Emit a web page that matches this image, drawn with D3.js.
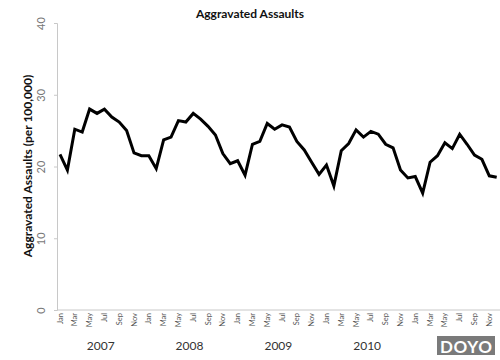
<!doctype html>
<html lang="en">
<head>
    <meta charset="UTF-8">
    <title>Aggravated Assaults</title>
    <script src="https://d3js.org/d3.v7.min.js"></script>
    <style>
        body { margin: 0; background: #fff; }
        svg { display: block; }
        text { font-family: Lato, "Liberation Sans", sans-serif; }
    </style>
</head>
<body>
    <svg width="500" height="360"></svg>

    <script>
        const monthNames = ["Jan", "Feb", "Mar", "Apr", "May", "Jun", "Jul", "Aug", "Sep", "Oct", "Nov", "Dec"];
        const years = [2007, 2008, 2009, 2010, 2011];
        const yTicks = [0, 10, 20, 30, 40];

        // monthly rate per 100,000, Jan 2007 .. Dec 2011
        const rate2007 = [21.7, 19.5, 25.2, 24.8, 28.0, 27.4, 28.0, 26.9, 26.2, 25.0, 21.9, 21.5];
        const rate2008 = [21.5, 19.7, 23.7, 24.1, 26.4, 26.2, 27.4, 26.6, 25.6, 24.4, 21.8, 20.4];
        const rate2009 = [20.8, 18.8, 23.1, 23.5, 26.0, 25.2, 25.8, 25.5, 23.5, 22.3, 20.6, 18.9];
        const rate2010 = [20.2, 17.3, 22.2, 23.2, 25.1, 24.1, 24.9, 24.5, 23.1, 22.6, 19.5, 18.4];
        const rate2011 = [18.6, 16.3, 20.6, 21.5, 23.3, 22.5, 24.5, 23.1, 21.6, 21.0, 18.7, 18.5];

        const rates = [rate2007, rate2008, rate2009, rate2010, rate2011];
        const data = [];
        rates.forEach((arr, yi) => arr.forEach((v, mi) => {
            data.push({ idx: yi * 12 + mi, year: years[yi], month: monthNames[mi], value: v });
        }));

        const svg = d3.select("svg");

        const x = d3.scaleLinear().domain([0, data.length - 1]).range([60, 496.7]);
        const y = d3.scaleLinear().domain([0, 40]).range([310, 23]);

        // title
        svg.append("text")
            .attr("x", 250).attr("y", 18)
            .attr("text-anchor", "middle")
            .attr("font-size", 12).attr("font-weight", "bold")
            .attr("fill", "#111")
            .text("Aggravated Assaults");

        // y axis
        const yAxis = svg.append("g")
            .attr("transform", "translate(57,0)")
            .call(d3.axisLeft(y).tickValues(yTicks).tickSize(3).tickFormat(d3.format("d")));
        yAxis.select(".domain").attr("stroke", "#c8c8c8");
        yAxis.selectAll(".tick line").attr("stroke", "#c8c8c8");
        yAxis.selectAll(".tick text")
            .attr("x", 0).attr("dy", 0)
            .attr("transform", "translate(-12,0) rotate(-90)")
            .attr("text-anchor", "middle")
            .attr("font-family", "Lato, sans-serif")
            .attr("font-size", 11)
            .attr("fill", "#777");

        svg.append("text")
            .attr("transform", "translate(32,166) rotate(-90)")
            .attr("text-anchor", "middle")
            .attr("font-size", 12).attr("font-weight", "bold")
            .attr("fill", "#111")
            .text("Aggravated Assaults (per 100,000)");

        // x axis
        svg.append("line")
            .attr("x1", 57).attr("x2", 500)
            .attr("y1", y(0)).attr("y2", y(0))
            .attr("stroke", "#c8c8c8");

        svg.append("g")
            .selectAll("text")
            .data(data.filter(d => d.idx % 2 === 0))
            .join("text")
            .attr("transform", d => `translate(${x(d.idx) + 2.5},313) rotate(-90)`)
            .attr("text-anchor", "end")
            .attr("font-size", 7.5)
            .attr("fill", "#555")
            .text(d => d.month);

        // the last year label is hidden under the watermark in the scan
        svg.append("g")
            .selectAll("text")
            .data(years.slice(0, 4))
            .join("text")
            .attr("x", (d, i) => (x(i * 12) + x(i * 12 + 11)) / 2)
            .attr("y", 350)
            .attr("text-anchor", "middle")
            .attr("font-size", 12)
            .attr("fill", "#333")
            .text(d => d);

        // the line
        const line = d3.line()
            .x(d => x(d.idx))
            .y(d => y(d.value));

        svg.append("path")
            .datum(data)
            .attr("fill", "none")
            .attr("stroke", "#000")
            .attr("stroke-width", 3)
            .attr("stroke-linejoin", "miter")
            .attr("d", line);

        // watermark in the corner of the scan
        svg.append("rect")
            .attr("x", 437).attr("y", 336)
            .attr("width", 58).attr("height", 19)
            .attr("fill", "#7a7a7a");
        svg.append("text")
            .attr("x", 466).attr("y", 352.5)
            .attr("text-anchor", "middle")
            .attr("font-family", "DejaVu Sans, sans-serif")
            .attr("font-size", 17).attr("font-weight", "bold")
            .attr("textLength", 52)
            .attr("fill", "#fff")
            .text("DOYO");
    </script>
</body>
</html>
